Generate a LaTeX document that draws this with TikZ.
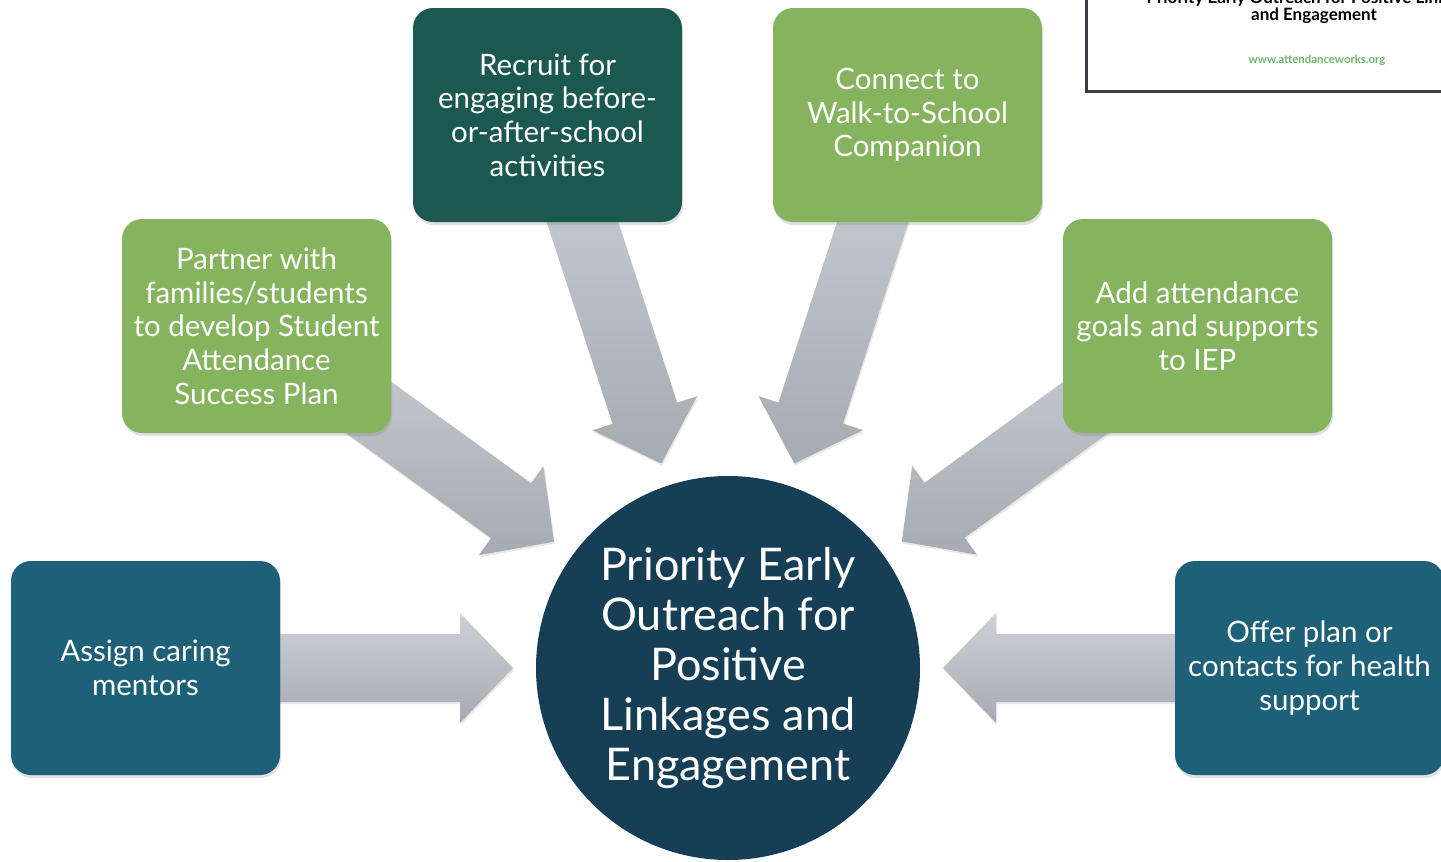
\documentclass[tikz,border=0pt]{standalone}
\usepackage{fontspec}
\setmainfont{Lato}
\usetikzlibrary{calc,shadows,backgrounds}

\definecolor{deepgreen}{HTML}{1B584F}
\definecolor{leafgreen}{HTML}{86B45E}
\definecolor{tealblue}{HTML}{1D6077}
\definecolor{hubblue}{HTML}{163F55}
\definecolor{arrowtop}{HTML}{CDD2D8}
\definecolor{arrowbot}{HTML}{A6ABB1}
\definecolor{urlgreen}{HTML}{6DB46A}
\definecolor{framegray}{HTML}{3C3C44}

\begin{document}
\begin{tikzpicture}[x=1pt, y=-1pt,
  box/.style={rounded corners=20pt, minimum width=269pt, minimum height=214pt,
    align=center, text=white, font=\fontsize{29.5}{33.7}\selectfont,
    drop shadow={opacity=0.25, shadow xshift=1pt, shadow yshift=-3pt}},
  blockarrow/.style={top color=arrowtop, bottom color=arrowbot,
    drop shadow={opacity=0.18, shadow xshift=1pt, shadow yshift=-2pt}},
  doctext/.style={anchor=base, font=\bfseries\fontsize{17}{20}\selectfont, inner sep=0pt}]
\useasboundingbox (0,0) rectangle (1441,862);
\clip (0,0) rectangle (1441,862);

% corner of the handout
\draw[framegray, line width=3pt, fill=white] (1086,-10) rectangle (1480,91);
\node[doctext] (doctitle) at (1314,3) {Priority Early Outreach for Positive Linkages};
\node[doctext] (doctitletwo) at (1314,20) {and Engagement};
\node[doctext, font=\bfseries\fontsize{11.4}{13}\selectfont, text=urlgreen] (docurl) at (1317,63) {www.attendanceworks.org};

% the hub and the six strategies
\node[circle, fill=hubblue, minimum size=384pt, align=center, text=white,
  font=\fontsize{45}{50}\selectfont] (hub) at (728,668)
  {Priority Early\\Outreach for\\Positive\\Linkages and\\Engagement};

\node[box, fill=tealblue] (assign) at (145.5,668) {Assign caring\\mentors};
\node[box, fill=leafgreen] (partner) at (256.5,326) {Partner with\\families/students\\to develop Student\\Attendance\\Success Plan};
\node[box, fill=deepgreen] (recruit) at (547.5,115) {Recruit for\\engaging before-\\or-after-school\\activities};
\node[box, fill=leafgreen] (connect) at (907.5,115) {Connect to\\Walk-to-School\\Companion};
\node[box, fill=leafgreen] (addiep) at (1197.5,326) {Add attendance\\goals and supports\\to IEP};
\node[box, fill=tealblue] (offer) at (1309.5,668) {Offer plan or\\contacts for health\\support};

% block arrows pointing in at the hub
\begin{scope}[on background layer]
\foreach \src in {assign,partner,recruit,connect,addiep,offer}{
  \coordinate (tip) at ($(hub)!215pt!(\src)$);
  \coordinate (base) at ($(tip)!53pt!(\src)$);
  \path[blockarrow] ($(\src)!34pt!-90:(tip)$) -- ($(base)!34pt!-90:(tip)$)
    -- ($(base)!55pt!-90:(tip)$) -- (tip) -- ($(base)!55pt!90:(tip)$)
    -- ($(base)!34pt!90:(tip)$) -- ($(\src)!34pt!90:(tip)$) -- cycle;
}
\end{scope}
\end{tikzpicture}
\end{document}
